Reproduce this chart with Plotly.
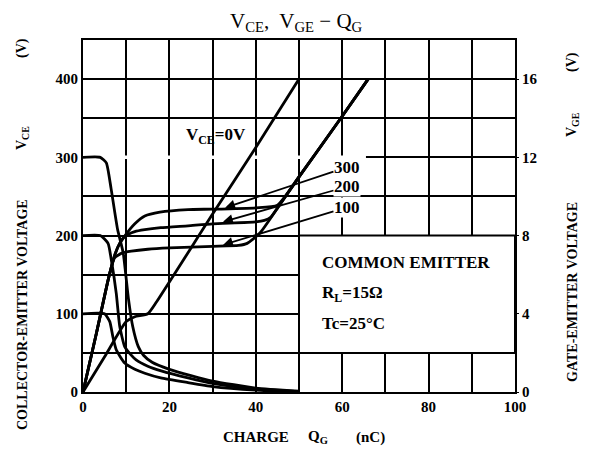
import plotly.graph_objects as go

# ---------------- data ----------------
# Gate-emitter voltage VGE (right axis, V) vs gate charge QG (nC)
q_vge0 = [0, 5, 10, 12, 15, 17, 30, 40, 50]
v_vge0 = [0, 1.8, 3.6, 3.85, 4.0, 4.6, 9.1, 12.5, 16.0]

q_vge100 = [0, 3, 6, 7.3, 9, 11.2, 15, 20, 30, 36, 38, 41, 45, 50, 60, 66]
v_vge100 = [0, 2.9, 5.9, 6.86, 7.1, 7.2, 7.3, 7.37, 7.45, 7.5, 7.6, 8.14, 9.4, 11.0, 14.1, 16.0]

q_vge200 = [0, 3, 6, 7.5, 8.5, 9.7, 12, 14.3, 18, 24.3, 30, 40, 42, 43.5, 45, 50, 60, 66]
v_vge200 = [0, 2.9, 5.9, 7.1, 7.6, 7.96, 8.2, 8.3, 8.4, 8.5, 8.6, 8.7, 8.78, 8.95, 9.4, 11.0, 14.1, 16.0]

q_vge300 = [0, 3, 6, 7.5, 8.5, 9.6, 12, 14.3, 17.8, 24.3, 30, 40, 45, 50, 60, 66]
v_vge300 = [0, 2.9, 5.9, 7.1, 7.6, 7.96, 8.6, 9.0, 9.2, 9.33, 9.35, 9.42, 9.55, 11.0, 14.1, 16.0]

# Collector-emitter voltage VCE (left axis, V) vs gate charge QG (nC)
q_vce300 = [0, 4, 5.4, 6.5, 8, 9.3, 10.5, 11.5, 12.8, 14, 16, 20, 25, 30, 40, 50]
v_vce300 = [300, 300, 293, 260, 208, 178, 120, 84, 58, 47, 38, 29, 21, 14, 5, 1]

q_vce200 = [0, 4, 5.8, 6.55, 7.7, 8.5, 9.65, 11, 12.3, 15, 18.1, 24.3, 30, 40, 50]
v_vce200 = [200, 200, 190, 169, 126, 84, 58, 48, 41, 33, 27, 18, 11, 4, 0.5]

q_vce100 = [0, 5, 6.2, 6.9, 7.7, 9.65, 12, 14.3, 18, 24.3, 30, 40, 50]
v_vce100 = [100, 100, 90, 71, 54, 37, 29, 24, 18, 12, 7, 2.5, 0.3]

# Curve labels (VCE values) with arrow targets on the VGE plateaus
label_texts = ["300", "200", "100"]
label_q = [61.1, 61.1, 61.1]
label_vge = [11.5, 10.5, 9.45]
arrow_q = [32.9, 32.4, 32.4]
arrow_vge = [9.42, 8.7, 7.52]

x_ticks = [0, 20, 40, 60, 80, 100]
y_ticks = [0, 100, 200, 300, 400]
y2_ticks = [0, 4, 8, 12, 16]

# ---------------- figure ----------------
SERIF = "Liberation Serif"
fig = go.Figure()
lw = dict(color="black", width=2.8, shape="spline", smoothing=0.5)

for q, v in [(q_vce300, v_vce300), (q_vce200, v_vce200), (q_vce100, v_vce100)]:
    fig.add_trace(go.Scatter(x=q, y=v, mode="lines", line=lw, yaxis="y",
                             showlegend=False, hoverinfo="skip"))
for q, v in [(q_vge0, v_vge0), (q_vge100, v_vge100), (q_vge200, v_vge200), (q_vge300, v_vge300)]:
    fig.add_trace(go.Scatter(x=q, y=v, mode="lines", line=lw, yaxis="y2",
                             showlegend=False, hoverinfo="skip"))

tickfont = dict(family=SERIF, size=15, color="black", weight="bold")
grid = dict(showgrid=True, gridcolor="black", gridwidth=2)

# the page body has an 8px margin: size/margins compensate so the plot area
# sits at x 83..515, y 40..392 of the 593x452 window
fig.update_layout(
    width=585, height=444,
    margin=dict(l=75, r=78, t=32, b=60),
    paper_bgcolor="white", plot_bgcolor="white",
    xaxis=dict(range=[0, 100], tickvals=x_ticks, tickfont=tickfont,
               showline=True, linecolor="black", linewidth=2, mirror=True,
               ticks="", zeroline=False,
               minor=dict(dtick=10, **grid), **grid),
    yaxis=dict(range=[0, 450], tickvals=y_ticks, tickfont=tickfont,
               showline=True, linecolor="black", linewidth=2, mirror=True,
               ticks="", zeroline=False,
               minor=dict(dtick=50, **grid), **grid),
    yaxis2=dict(range=[0, 18], tickvals=y2_ticks, tickfont=tickfont,
                overlaying="y", side="right", showgrid=False, zeroline=False,
                ticks="outside", ticklen=3, tickcolor="black", showline=False),
)

# gap in the 300 V grid line (left part)
fig.add_shape(type="line", xref="x", yref="y", x0=0.3, x1=65.5, y0=300, y1=300,
              line=dict(color="white", width=3.5), layer="between")

# condition box
fig.add_shape(type="rect", xref="x", yref="y", x0=50, x1=100, y0=50, y1=200,
              fillcolor="white", line=dict(color="black", width=2), layer="between")

ann_font = dict(family=SERIF, size=17, color="black", weight="bold")
for t, yv in [("COMMON EMITTER", 165), ("R<sub>L</sub>=15Ω", 125), ("Tc=25°C", 88)]:
    fig.add_annotation(x=54.9, y=yv, xref="x", yref="y", text=t, showarrow=False,
                       xanchor="left", yanchor="middle", font=ann_font)

fig.add_annotation(x=30.7, y=327, xref="x", yref="y", text="V<sub>CE</sub>=0V",
                   showarrow=False, font=ann_font)

for t, lq, lv, aq, av in zip(label_texts, label_q, label_vge, arrow_q, arrow_vge):
    fig.add_annotation(x=aq, y=av, xref="x", yref="y2", ax=lq, ay=lv, axref="x", ayref="y2",
                       text=t, showarrow=True, arrowhead=2, arrowsize=1.1, arrowwidth=1.8,
                       arrowcolor="black", font=ann_font, bgcolor="white", borderpad=0)

# titles (positions given in window pixels, converted to paper units of the plot area)
def px_x(px):
    return (px - 83) / 432

def px_y(py):
    return (392 - py) / 352

def label(text, px, py, font, angle=0):
    fig.add_annotation(x=px_x(px), y=px_y(py), xref="paper", yref="paper",
                       xanchor="center", yanchor="middle", text=text, textangle=angle,
                       showarrow=False, font=font)

label("V<sub>CE</sub>,  V<sub>GE</sub> − Q<sub>G</sub>", 296, 22,
      dict(family=SERIF, size=21, color="black"))

tfont = dict(family=SERIF, size=14, color="black", weight="bold")
for t, py in [("COLLECTOR-EMITTER VOLTAGE", 315), ("V<sub>CE</sub>", 138), ("(V)", 48)]:
    label(t, 22, py, tfont, -90)
for t, py in [("GATE-EMITTER VOLTAGE", 292), ("V<sub>GE</sub>", 125), ("(V)", 62)]:
    label(t, 572, py, tfont, -90)
xfont = dict(family=SERIF, size=15, color="black", weight="bold")
for t, px in [("CHARGE", 256), ("Q<sub>G</sub>", 318), ("(nC)", 370)]:
    label(t, px, 437, xfont)

fig.write_html("out.html")
